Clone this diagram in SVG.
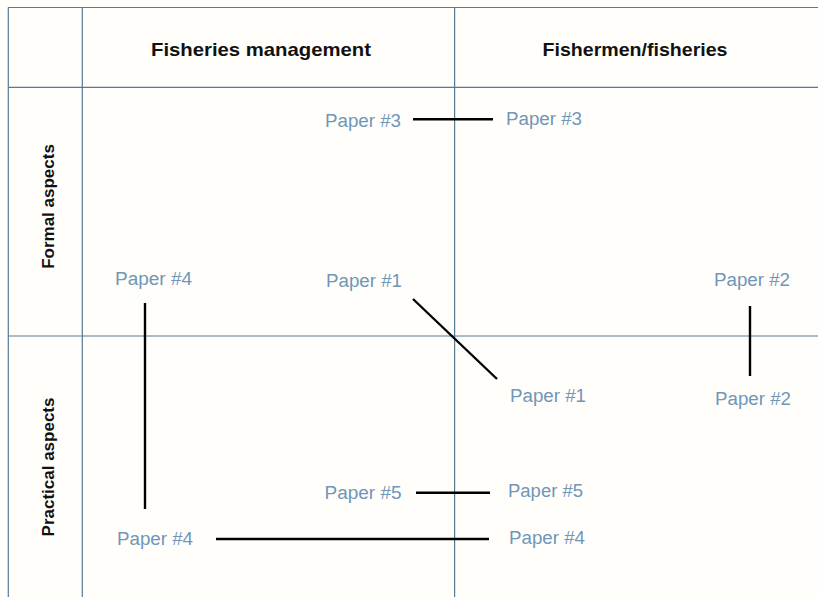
<svg xmlns="http://www.w3.org/2000/svg" width="818" height="597" viewBox="0 0 818 597">
<defs>
<style>
.grid{stroke:#557a93;stroke-width:1.2;fill:none}
.hdr{font-family:"Liberation Sans",Arial,sans-serif;font-weight:bold;font-size:18.5px;fill:#111}
.row{font-family:"Liberation Sans",Arial,sans-serif;font-weight:bold;font-size:17px;fill:#111}
.pp{font-family:"Liberation Sans",Arial,sans-serif;font-size:18px;fill:#7096b8}
.cn{stroke:#000;stroke-width:2.4;fill:none}
</style>
</defs>
<rect width="818" height="597" fill="#fffefb"/>
<g id="grid">
<line class="grid" x1="8" y1="7.5" x2="818" y2="7.5"/>
<line class="grid" x1="8" y1="87.3" x2="818" y2="87.3"/>
<line class="grid" x1="8" y1="336" x2="818" y2="336"/>
<line class="grid" x1="8.3" y1="7.5" x2="8.3" y2="597"/>
<line class="grid" x1="82.3" y1="7.5" x2="82.3" y2="597"/>
<line class="grid" x1="454.6" y1="7.5" x2="454.6" y2="597"/>
</g>
<g id="header-fm"><text class="hdr" x="151" y="56" textLength="220" lengthAdjust="spacingAndGlyphs">Fisheries management</text></g>
<g id="header-ff"><text class="hdr" x="542.5" y="56" textLength="185" lengthAdjust="spacingAndGlyphs">Fishermen/fisheries</text></g>
<g id="row-formal"><text class="row" transform="translate(54,206.5) rotate(-90)" text-anchor="middle">Formal aspects</text></g>
<g id="row-practical"><text class="row" transform="translate(54,467) rotate(-90)" text-anchor="middle">Practical aspects</text></g>
<g id="p3-fm"><text class="pp" x="325" y="127" textLength="76" lengthAdjust="spacingAndGlyphs">Paper #3</text></g>
<g id="p3-ff"><text class="pp" x="506" y="125" textLength="76" lengthAdjust="spacingAndGlyphs">Paper #3</text></g>
<g id="p4-formal"><text class="pp" x="115" y="285" textLength="77" lengthAdjust="spacingAndGlyphs">Paper #4</text></g>
<g id="p1-fm"><text class="pp" x="326" y="287" textLength="76" lengthAdjust="spacingAndGlyphs">Paper #1</text></g>
<g id="p2-formal"><text class="pp" x="714" y="285.5" textLength="76" lengthAdjust="spacingAndGlyphs">Paper #2</text></g>
<g id="p1-ff"><text class="pp" x="510" y="402" textLength="76" lengthAdjust="spacingAndGlyphs">Paper #1</text></g>
<g id="p2-practical"><text class="pp" x="715" y="404.5" textLength="76" lengthAdjust="spacingAndGlyphs">Paper #2</text></g>
<g id="p5-fm"><text class="pp" x="324.5" y="499" textLength="77" lengthAdjust="spacingAndGlyphs">Paper #5</text></g>
<g id="p5-ff"><text class="pp" x="508" y="497" textLength="75" lengthAdjust="spacingAndGlyphs">Paper #5</text></g>
<g id="p4-practical"><text class="pp" x="117" y="545" textLength="76" lengthAdjust="spacingAndGlyphs">Paper #4</text></g>
<g id="p4-ff"><text class="pp" x="509" y="544" textLength="76" lengthAdjust="spacingAndGlyphs">Paper #4</text></g>
<g id="connectors">
<line class="cn" x1="413" y1="119.3" x2="493" y2="119.3"/>
<line class="cn" x1="413" y1="299" x2="497" y2="379"/>
<line class="cn" x1="750" y1="306" x2="750" y2="376"/>
<line class="cn" x1="145" y1="303" x2="145" y2="509"/>
<line class="cn" x1="416" y1="492.7" x2="490" y2="492.7"/>
<line class="cn" x1="216" y1="539" x2="489" y2="539"/>
</g>
</svg>
